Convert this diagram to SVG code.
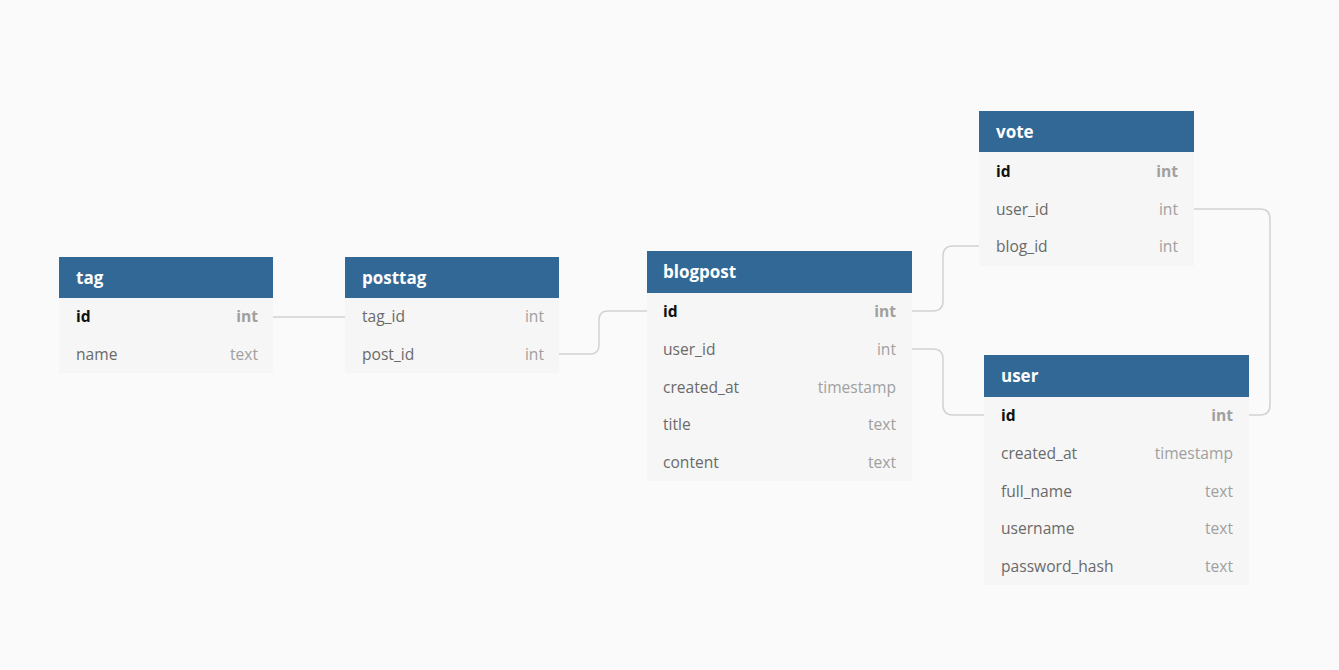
<svg xmlns="http://www.w3.org/2000/svg" width="1339" height="670" viewBox="0 0 1339 670">
  <style>
    .hd { fill: #316896; }
    .bd { fill: #f6f6f6; }
    .tt { font-family: "Open Sans", "Noto Sans", sans-serif; font-size: 17px; font-weight: 700; fill: #ffffff; }
    .fn { font-family: "Open Sans", "Noto Sans", sans-serif; font-size: 15.6px; fill: #6a6a6a; }
    .fk { font-family: "Open Sans", "Noto Sans", sans-serif; font-size: 15.6px; font-weight: 700; fill: #111111; }
    .ty { font-family: "Open Sans", "Noto Sans", sans-serif; font-size: 15.6px; fill: #a0a0a0; text-anchor: end; }
    .tk { font-family: "Open Sans", "Noto Sans", sans-serif; font-size: 15.6px; font-weight: 700; fill: #a0a0a0; text-anchor: end; }
    .ln { fill: none; stroke: #d2d2d2; stroke-width: 1.5; }
  </style>
  <rect width="1339" height="670" fill="#fafafa"/>

  <g id="connectors">
    <path class="ln" d="M273,317 H345"/>
    <path class="ln" d="M559,354 H590 Q599,354 599,345 V320 Q599,311 608,311 H647"/>
    <path class="ln" d="M912,311 H933 Q943,311 943,301 V256 Q943,246 953,246 H979"/>
    <path class="ln" d="M912,349 H933 Q943,349 943,359 V405 Q943,415 953,415 H984"/>
    <path class="ln" d="M1194,209 H1260 Q1270,209 1270,219 V405 Q1270,415 1260,415 H1249"/>
  </g>

  <g id="tag">
    <rect class="bd" x="59" y="297" width="214" height="76"/>
    <rect class="hd" x="59" y="257" width="214" height="41"/>
    <text class="tt" x="76" y="284">tag</text>
    <text class="fk" x="76" y="322">id</text>
    <text class="tk" x="258" y="322">int</text>
    <text class="fn" x="76" y="360">name</text>
    <text class="ty" x="258" y="360">text</text>
  </g>

  <g id="posttag">
    <rect class="bd" x="345" y="297" width="214" height="76"/>
    <rect class="hd" x="345" y="257" width="214" height="41"/>
    <text class="tt" x="362" y="284">posttag</text>
    <text class="fn" x="362" y="322">tag_id</text>
    <text class="ty" x="544" y="322">int</text>
    <text class="fn" x="362" y="360">post_id</text>
    <text class="ty" x="544" y="360">int</text>
  </g>

  <g id="blogpost">
    <rect class="bd" x="647" y="292" width="265" height="189"/>
    <rect class="hd" x="647" y="251" width="265" height="42"/>
    <text class="tt" x="663" y="278">blogpost</text>
    <text class="fk" x="663" y="317">id</text>
    <text class="tk" x="896" y="317">int</text>
    <text class="fn" x="663" y="355">user_id</text>
    <text class="ty" x="896" y="355">int</text>
    <text class="fn" x="663" y="393">created_at</text>
    <text class="ty" x="896" y="393">timestamp</text>
    <text class="fn" x="663" y="430">title</text>
    <text class="ty" x="896" y="430">text</text>
    <text class="fn" x="663" y="468">content</text>
    <text class="ty" x="896" y="468">text</text>
  </g>

  <g id="vote">
    <rect class="bd" x="979" y="152" width="215" height="114"/>
    <rect class="hd" x="979" y="111" width="215" height="41"/>
    <text class="tt" x="996" y="138">vote</text>
    <text class="fk" x="996" y="177">id</text>
    <text class="tk" x="1178" y="177">int</text>
    <text class="fn" x="996" y="215">user_id</text>
    <text class="ty" x="1178" y="215">int</text>
    <text class="fn" x="996" y="252">blog_id</text>
    <text class="ty" x="1178" y="252">int</text>
  </g>

  <g id="user">
    <rect class="bd" x="984" y="396" width="265" height="189"/>
    <rect class="hd" x="984" y="355" width="265" height="42"/>
    <text class="tt" x="1001" y="382">user</text>
    <text class="fk" x="1001" y="421">id</text>
    <text class="tk" x="1233" y="421">int</text>
    <text class="fn" x="1001" y="459">created_at</text>
    <text class="ty" x="1233" y="459">timestamp</text>
    <text class="fn" x="1001" y="497">full_name</text>
    <text class="ty" x="1233" y="497">text</text>
    <text class="fn" x="1001" y="534">username</text>
    <text class="ty" x="1233" y="534">text</text>
    <text class="fn" x="1001" y="572">password_hash</text>
    <text class="ty" x="1233" y="572">text</text>
  </g>
</svg>
